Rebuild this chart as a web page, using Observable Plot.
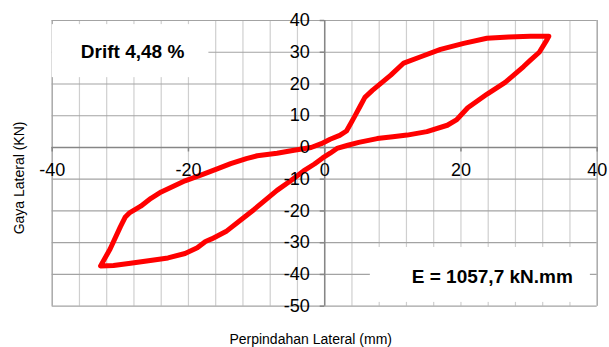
<!DOCTYPE html>
<html>
<head>
<meta charset="utf-8">
<script src="https://cdn.jsdelivr.net/npm/d3@7"></script>
<script src="https://cdn.jsdelivr.net/npm/@observablehq/plot@0.6"></script>
<style>
  html, body { margin: 0; padding: 0; background: #fff; }
</style>
</head>
<body>
<div id="chart"></div>
<script>
// Hysteresis loop: lateral displacement (mm) vs lateral force (kN)
const dispX = [-32.9, -31.5, -30.0, -29.3, -28.6, -27.0, -25.5, -24.0, -20.5, -17.7, -15.5, -13.8, -11.5, -9.9, -7.0, -4.5, -2.0, -0.5, 0.8, 2.2, 3.2, 3.8, 4.5, 5.2, 5.9, 7.0, 9.7, 11.6, 14.0, 17.0, 20.4, 23.8, 27.0, 30.2, 32.9,
  32.5, 31.5, 30.2, 29.2, 26.5, 23.9, 21.0, 19.4, 18.0, 15.0, 12.1, 10.0, 7.7, 5.0, 3.4, 1.8, 0.8, -0.3, -1.5, -3.1, -5.0, -7.0, -10.4, -12.0, -14.5, -16.6, -17.5, -18.7, -20.5, -23.0, -25.6, -28.5, -31.0, -32.9];
const forceY = [-37.3, -32.0, -25.0, -22.0, -20.5, -18.5, -16.0, -14.0, -10.5, -8.3, -6.5, -5.1, -3.5, -2.6, -1.8, -0.9, 0.0, 1.2, 2.6, 3.8, 5.2, 7.5, 10.2, 13.0, 15.8, 18.0, 22.8, 26.6, 28.5, 30.9, 32.8, 34.4, 34.8, 35.0, 35.0,
  33.5, 30.0, 27.5, 25.5, 20.5, 16.9, 12.5, 8.8, 7.0, 5.0, 3.9, 3.4, 2.8, 1.6, 0.7, -0.3, -1.8, -3.3, -5.2, -7.4, -10.5, -13.5, -19.6, -22.3, -26.5, -28.8, -29.6, -31.6, -33.4, -34.8, -35.6, -36.5, -37.2, -37.3];

const xTickLabels = [-40, -20, 0, 20, 40];
const yTickLabels = [40, 30, 20, 10, 0, -10, -20, -30, -40, -50];
const xGridValues = [-40, -36, -32, -28, -24, -20, -16, -12, -8, -4, 0, 4, 8, 12, 16, 20, 24, 28, 32, 36, 40];
const yGridValues = [-50, -40, -30, -20, -10, 0, 10, 20, 30, 40];

const xTitle = "Perpindahan Lateral (mm)";
const yTitle = "Gaya Lateral (KN)";
const noteDrift = "Drift 4,48 %";
const noteEnergy = "E = 1057,7 kN.mm";

const loop = dispX.map((x, i) => ({x, y: forceY[i]}));

const chart = Plot.plot({
  width: 609,
  height: 347,
  marginLeft: 51.7,
  marginRight: 12.3,
  marginTop: 20,
  marginBottom: 41.3,
  style: {fontFamily: "'Liberation Sans', Arial, sans-serif", background: "#fff", overflow: "visible"},
  x: {type: "linear", domain: [-40, 40], axis: null},
  y: {type: "linear", domain: [-50, 40], axis: null},
  marks: [
    // gridlines
    Plot.ruleX(xGridValues, {x: d => d, stroke: "#cfcfcf", strokeWidth: 1.2}),
    Plot.ruleY(yGridValues, {y: d => d, stroke: "#a3a3a3", strokeWidth: 1.2}),
    Plot.ruleX([-40, 40], {x: d => d, stroke: "#a3a3a3", strokeWidth: 1.2}),
    // white label boxes
    Plot.rect([noteDrift], {x1: -40, x2: -17, y1: 22, y2: 38.7, fill: "#fff"}),
    Plot.rect([noteEnergy], {x1: 6.7, x2: 39, y1: -48.8, y2: -31.5, fill: "#fff"}),
    // axes through origin
    Plot.ruleY([0], {y: d => d, stroke: "#868686", strokeWidth: 1.5}),
    Plot.ruleX([0], {x: d => d, stroke: "#868686", strokeWidth: 1.5}),
    Plot.ruleY(yTickLabels, {y: d => d, x1: 0, x2: 0, insetLeft: -4.5, stroke: "#868686", strokeWidth: 1.5}),
    Plot.ruleX(xTickLabels, {x: d => d, y1: 0, y2: 0, insetBottom: -4.5, stroke: "#868686", strokeWidth: 1.5}),
    // hysteresis curve
    Plot.line(loop, {x: "x", y: "y", stroke: "#ff0000", strokeWidth: 5, strokeLinejoin: "round", strokeLinecap: "round", curve: "linear"}),
    // tick labels
    Plot.text(xTickLabels, {x: d => d, y: 0, text: d => String(d), dy: 23, fontSize: 18, fill: "#000"}),
    Plot.text(yTickLabels, {x: 0, y: d => d, text: d => String(d), textAnchor: "end", dx: -15, fontSize: 18, fill: "#000"}),
    // annotations
    Plot.text([noteDrift], {x: -28.2, y: 30.2, text: d => d, fontSize: 19, fontWeight: "bold", fill: "#000"}),
    Plot.text([noteEnergy], {x: 24.6, y: -40.8, text: d => d, fontSize: 19, fontWeight: "bold", fill: "#000"}),
    // axis titles
    Plot.text([xTitle], {frameAnchor: "bottom", text: d => d, dx: -14, dy: 38, fontSize: 14, fill: "#000"}),
    Plot.text([yTitle], {x: -44.8, y: -9.6, text: d => d, rotate: -90, fontSize: 14, fill: "#000"})
  ]
});

document.getElementById("chart").appendChild(chart);
</script>
</body>
</html>
